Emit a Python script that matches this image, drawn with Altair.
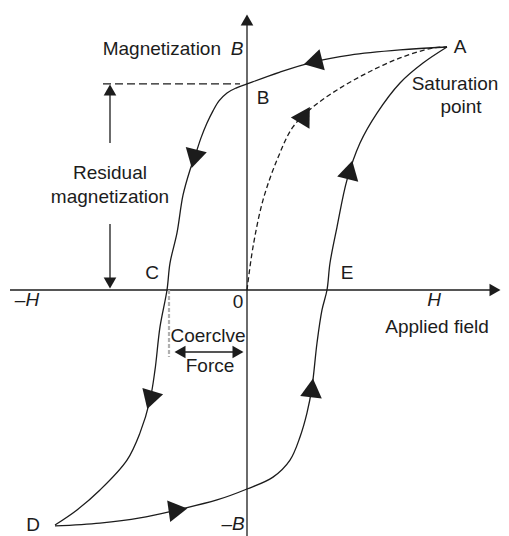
import altair as alt
import pandas as pd

# ---- scale domains (H = applied field, B = magnetization; A = (1, 1)) ----
X_DOMAIN = [-1.195, 1.27]
Y_DOMAIN = [-1.0124, 1.1605]

# ---- hysteresis curves ----
desc_H = [1.0, 0.765, 0.515, 0.33, 0.165, 0.0, -0.055, -0.10, -0.14, -0.17, -0.20, -0.23, -0.255, -0.285,
          -0.32, -0.35, -0.385, -0.40, -0.435, -0.46, -0.485, -0.535, -0.6, -0.735, -0.85, -0.96]
desc_B = [1.0, 0.988, 0.967, 0.938, 0.897, 0.848, 0.831, 0.811, 0.778, 0.737, 0.687, 0.626, 0.564, 0.494,
          0.39, 0.235, 0.111, 0.0, -0.152, -0.329, -0.453, -0.588, -0.70, -0.823, -0.905, -0.967]

asc_H = [-0.96, -0.735, -0.535, -0.35, -0.15, 0.0, 0.13, 0.215, 0.265, 0.30, 0.325, 0.35, 0.375, 0.40,
         0.415, 0.45, 0.50, 0.565, 0.65, 0.765, 0.88, 1.0]
asc_B = [-0.971, -0.959, -0.938, -0.905, -0.864, -0.819, -0.77, -0.70, -0.605, -0.506, -0.40, -0.218,
         -0.082, 0.0, 0.111, 0.259, 0.453, 0.605, 0.728, 0.852, 0.934, 1.0]

init_H = [0.0, 0.03, 0.08, 0.15, 0.23, 0.33, 0.45, 0.60, 0.765, 0.93, 1.0]
init_B = [0.0, 0.177, 0.37, 0.535, 0.671, 0.753, 0.823, 0.893, 0.955, 0.996, 1.0]

# ---- straight guide segments: (name, H1, B1, H2, B2) ----
seg_names = ["x_axis", "y_axis", "resid_up", "resid_down"]
seg_H1 = [-1.185, 0.0, -0.685, -0.685]
seg_B1 = [0.0, -1.0124, 0.605, 0.272]
seg_H2 = [1.235, 0.0, -0.685, -0.685]
seg_B2 = [0.0, 1.111, 0.835, 0.02]

remanence_H = [-0.72, -0.035]
remanence_B = [0.848, 0.848]

coercive_line_H = [-0.39, -0.39]
coercive_line_B = [0.0, -0.276]

force_arrow_H = [-0.355, -0.025]
force_arrow_B = [-0.255, -0.255]

# ---- arrowheads on curves ----
big_arrow_H = [0.33, -0.265, -0.485, -0.345, 0.325, 0.515, 0.29]
big_arrow_B = [0.938, 0.54, -0.453, -0.905, -0.403, 0.494, 0.72]
big_arrow_dir = [256, 194, 197, 82, 6, 14, 31]

small_arrow_H = [0.0, 1.24, -0.685, -0.685, -0.335, -0.045]
small_arrow_B = [1.111, 0.0, 0.823, 0.029, -0.255, -0.255]
small_arrow_dir = [0, 90, 0, 180, 270, 90]

# ---- labels ----
lab_text = ["A", "Saturation", "point", "B", "Residual", "magnetization", "C", "E", "0",
            "Applied field", "Coerclve", "Force", "D"]
lab_H = [1.065, 1.04, 1.07, 0.08, -0.685, -0.685, -0.475, 0.5, -0.045, 0.95, -0.195, -0.185, -1.07]
lab_B = [1.0, 0.848, 0.753, 0.79, 0.481, 0.383, 0.07, 0.07, -0.05, -0.152, -0.19, -0.313, -0.967]

ital_text = ["B", "–H", "H", "–B"]
ital_H = [-0.05, -1.1, 0.935, -0.07]
ital_B = [0.992, -0.041, -0.041, -0.963]

mag_text = ["Magnetization"]
mag_H = [-0.13]
mag_B = [0.992]

INK = "#1c1c1c"
FONT = "Liberation Sans"
FS = 19

xs = alt.Scale(domain=X_DOMAIN, nice=False, zero=False)
ys = alt.Scale(domain=Y_DOMAIN, nice=False, zero=False)


def curve(Hs, Bs, dash=None, color=INK, width=1.3, interp="catmull-rom"):
    df = pd.DataFrame({"H": Hs, "B": Bs, "i": list(range(len(Hs)))})
    kw = dict(color=color, strokeWidth=width, interpolate=interp, clip=False)
    if dash:
        kw["strokeDash"] = dash
    return alt.Chart(df).mark_line(**kw).encode(
        x=alt.X("H:Q", scale=xs, axis=None),
        y=alt.Y("B:Q", scale=ys, axis=None),
        order="i:Q",
    )


segs = pd.DataFrame({"name": seg_names, "H1": seg_H1, "B1": seg_B1, "H2": seg_H2, "B2": seg_B2})
seg_layer = alt.Chart(segs).mark_rule(color=INK, strokeWidth=1.3).encode(
    x=alt.X("H1:Q", scale=xs, axis=None), y=alt.Y("B1:Q", scale=ys, axis=None),
    x2="H2:Q", y2="B2:Q",
)


def arrows(Hs, Bs, dirs, size):
    df = pd.DataFrame({"H": Hs, "B": Bs, "dir": dirs})
    return alt.Chart(df).mark_point(shape="triangle-up", filled=True, color=INK,
                                    size=size, opacity=1, strokeWidth=0).encode(
        x=alt.X("H:Q", scale=xs, axis=None),
        y=alt.Y("B:Q", scale=ys, axis=None),
        angle=alt.Angle("dir:Q", scale=None),
    )


def labels(texts, Hs, Bs, style="normal", align="center"):
    df = pd.DataFrame({"t": texts, "H": Hs, "B": Bs})
    return alt.Chart(df).mark_text(font=FONT, fontSize=FS, color=INK, fontStyle=style,
                                   align=align, baseline="middle").encode(
        x=alt.X("H:Q", scale=xs, axis=None),
        y=alt.Y("B:Q", scale=ys, axis=None),
        text="t:N",
    )


chart = alt.layer(
    seg_layer,
    curve(remanence_H, remanence_B, dash=[8, 4], interp="linear"),
    curve(coercive_line_H, coercive_line_B, dash=[4, 2], color="#b0b0b0", width=2.2, interp="linear"),
    curve(force_arrow_H, force_arrow_B, interp="linear", width=1.5),
    curve(desc_H, desc_B),
    curve(asc_H, asc_B),
    curve(init_H, init_B, dash=[5, 3]),
    arrows(big_arrow_H, big_arrow_B, big_arrow_dir, 470),
    arrows(small_arrow_H, small_arrow_B, small_arrow_dir, 160),
    labels(lab_text, lab_H, lab_B),
    labels(ital_text, ital_H, ital_B, style="italic"),
    labels(mag_text, mag_H, mag_B, align="right"),
).properties(
    width=493, height=528, autosize=alt.AutoSizeParams(type="none"), padding=0,
).configure_view(stroke=None)

chart.save("out.html", embed_options={"renderer": "svg", "actions": False})
